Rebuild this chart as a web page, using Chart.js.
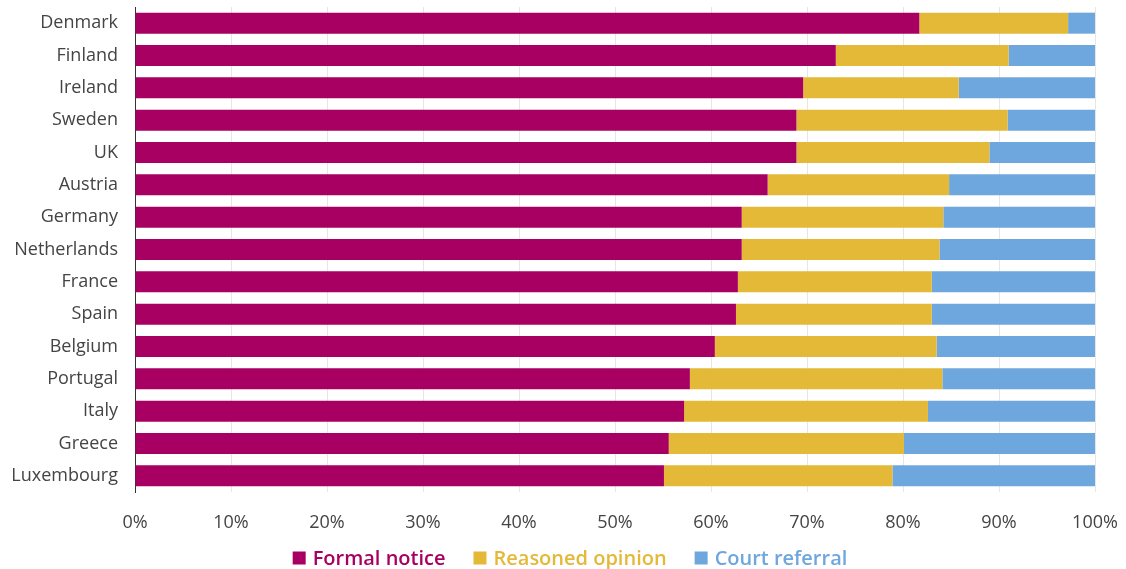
<!DOCTYPE html>
<html>
<head>
<meta charset="utf-8">
<script src="https://cdn.jsdelivr.net/npm/chart.js@4"></script>
<style>
  html, body { margin: 0; padding: 0; background: #fff; }
  #wrap { width: 1126px; height: 569px; }
</style>
</head>
<body>
<div id="wrap"><canvas id="infringementChart"></canvas></div>
<script>
// Share of infringement cases by stage, per member state (%)
const countries = ['Denmark', 'Finland', 'Ireland', 'Sweden', 'UK', 'Austria', 'Germany',
    'Netherlands', 'France', 'Spain', 'Belgium', 'Portugal', 'Italy', 'Greece', 'Luxembourg'];
const formalNotice = [81.7, 73.0, 69.6, 68.9, 68.9, 65.9, 63.2, 63.2, 62.8, 62.6, 60.4, 57.8, 57.2, 55.6, 55.1];
const reasonedOpinion = [15.5, 18.0, 16.2, 22.0, 20.1, 18.9, 21.0, 20.6, 20.2, 20.4, 23.1, 26.3, 25.4, 24.5, 23.8];
const courtReferral = [2.8, 9.0, 14.2, 9.1, 11.0, 15.2, 15.8, 16.2, 17.0, 17.0, 16.5, 15.9, 17.4, 19.9, 21.1];
const xTicks = [0, 10, 20, 30, 40, 50, 60, 70, 80, 90, 100];

const colors = {
    formal: '#a80062',
    reasoned: '#e4b938',
    court: '#6ea7dd'
};

const makeSet = (label, data, color) => ({
    label: label,
    data: data,
    backgroundColor: color,
    borderWidth: 0,
    barPercentage: 0.65,
    categoryPercentage: 1
});

// Legend drawn under the axis: coloured square + label in the series colour
const bottomLegend = {
    id: 'bottomLegend',
    afterDraw(chart) {
        const ctx = chart.ctx;
        const box = 13, textGap = 20, itemGap = 28;
        const y = chart.height - 11;
        ctx.save();
        ctx.font = '600 20px "Open Sans"';
        ctx.textBaseline = 'middle';
        const items = chart.data.datasets.map(ds => ({
            text: ds.label,
            color: ds.backgroundColor,
            width: textGap + ctx.measureText(ds.label).width
        }));
        const total = items.reduce((s, it) => s + it.width, 0) + itemGap * (items.length - 1);
        let x = chart.width / 2 + 7 - total / 2;
        items.forEach(it => {
            ctx.fillStyle = it.color;
            ctx.fillRect(x, y - box / 2, box, box);
            ctx.fillText(it.text, x + textGap, y + 1);
            x += it.width + itemGap;
        });
        ctx.restore();
    }
};

new Chart(document.getElementById('infringementChart'), {
    type: 'bar',
    data: {
        labels: countries,
        datasets: [
            makeSet('Formal notice', formalNotice, colors.formal),
            makeSet('Reasoned opinion', reasonedOpinion, colors.reasoned),
            makeSet('Court referral', courtReferral, colors.court)
        ]
    },
    plugins: [bottomLegend],
    options: {
        indexAxis: 'y',
        responsive: true,
        maintainAspectRatio: false,
        animation: false,
        layout: { padding: { top: 7, right: 31, left: 0, bottom: 35 } },
        scales: {
            x: {
                stacked: true,
                min: 0,
                max: 100,
                afterBuildTicks: (axis) => { axis.ticks = xTicks.map(v => ({ value: v })); },
                afterFit: (axis) => {
                    axis.height = 42;
                    axis.paddingLeft = 0;
                    axis.paddingRight = 0;
                },
                grid: { color: '#e6e6e6', lineWidth: 1, drawTicks: false },
                border: { display: false },
                ticks: {
                    padding: 20,
                    color: '#444',
                    font: { family: 'Open Sans', size: 18 },
                    callback: (v) => v + '%'
                }
            },
            y: {
                stacked: true,
                afterFit: (axis) => {
                    axis.width = 135;
                    axis.paddingTop = 0;
                    axis.paddingBottom = 0;
                },
                grid: { display: false, drawTicks: false },
                border: { display: true, color: '#333', width: 1 },
                ticks: {
                    padding: 17,
                    color: '#444',
                    font: { family: 'Open Sans', size: 18 }
                }
            }
        },
        plugins: {
            tooltip: { enabled: false },
            legend: { display: false }
        }
    }
});
</script>
</body>
</html>
